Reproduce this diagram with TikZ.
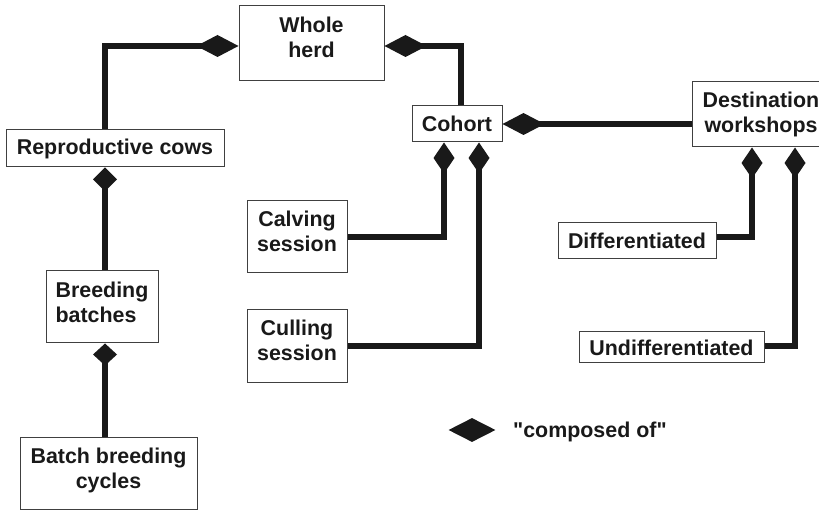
\documentclass[tikz,border=0pt]{standalone}
\usepackage{fontspec}
\setmainfont{Liberation Sans}
\usetikzlibrary{arrows.meta,shapes.geometric}
\begin{document}
\begin{tikzpicture}[x=1pt,y=-1pt,
  lbl/.style={font=\fontsize{21.4}{25}\selectfont\bfseries, text=black!90},
  box/.style={lbl, draw=black!75, line width=1pt, inner sep=0pt, align=center},
  link/.style={line width=5.2pt, draw=black!90},
  comph/.style={link, -{Diamond[length=42pt,width=22pt,line width=0pt]}},
  compv/.style={link, -{Diamond[length=31pt,width=21pt,line width=0pt]}},
  compsq/.style={link, -{Diamond[length=#1,width=24pt,line width=0pt]}},
  compsq/.default=24pt,
]
\useasboundingbox (0,0) rectangle (819,510);
\clip (0,0) rectangle (819,510);

% boxes
\node[box, minimum width=145pt, minimum height=75pt] (wh) at (311.5,43.5) {Whole\\herd\rule[-12pt]{0pt}{0pt}};
\node[box, minimum width=218pt, minimum height=37pt] (rc) at (115,148.5) {Reproductive cows};
\node[box, minimum width=90pt, minimum height=36pt] (co) at (457,124) {Cohort};
\node[box, minimum width=138pt, minimum height=65pt] (dw) at (761,114.5) {Destination\\workshops};
\node[box, minimum width=100pt, minimum height=72pt] (cs) at (297,237) {Calving\\session\rule[-11pt]{0pt}{0pt}};
\node[box, minimum width=100pt, minimum height=72pt] (cu) at (297,346) {Culling\\session\rule[-11pt]{0pt}{0pt}};
\node[box, align=left, minimum width=112pt, minimum height=72pt] (bb) at (102,307) {Breeding\\batches\rule[-10pt]{0pt}{0pt}};
\node[box, minimum width=177pt, minimum height=72pt] (bbc) at (108.5,473) {Batch breeding\\cycles\rule[-9pt]{0pt}{0pt}};
\node[box, minimum width=158pt, minimum height=36pt] (df) at (637,241) {Differentiated};
\node[box, minimum width=185pt, minimum height=31pt] (ud) at (671.5,347.5) {Undifferentiated};

% connectors ("composed of")
\draw[comph] ([xshift=-10pt]rc.north) |- ([yshift=-2.5pt]wh.west);
\draw[comph] ([xshift=4pt]co.north) |- ([yshift=-2.5pt]wh.east);
\draw[comph] (co.east -| dw.west) -- (co.east);
\draw[compv] (cs.east) -| ([xshift=-13pt]co.south);
\draw[compv] (cu.east) -| ([xshift=22pt]co.south);
\draw[compsq] ([xshift=3pt]bb.north) -- ([xshift=-10pt]rc.south);
\draw[compsq=22pt] ([xshift=-3.5pt]bbc.north) -- ([xshift=3pt]bb.south);
\draw[compv] ([yshift=4pt]df.east) -| ([xshift=-9pt]dw.south);
\draw[compv] ([yshift=1.5pt]ud.east) -| ([xshift=34pt]dw.south);

% legend
\node[diamond, fill=black!90, inner sep=0pt, minimum width=47pt, minimum height=24pt] (lg) at (472,430) {};
\node[lbl, anchor=base west, inner sep=0pt] (lt) at (513,437) {\textquotedbl composed of\textquotedbl};
\end{tikzpicture}
\end{document}
